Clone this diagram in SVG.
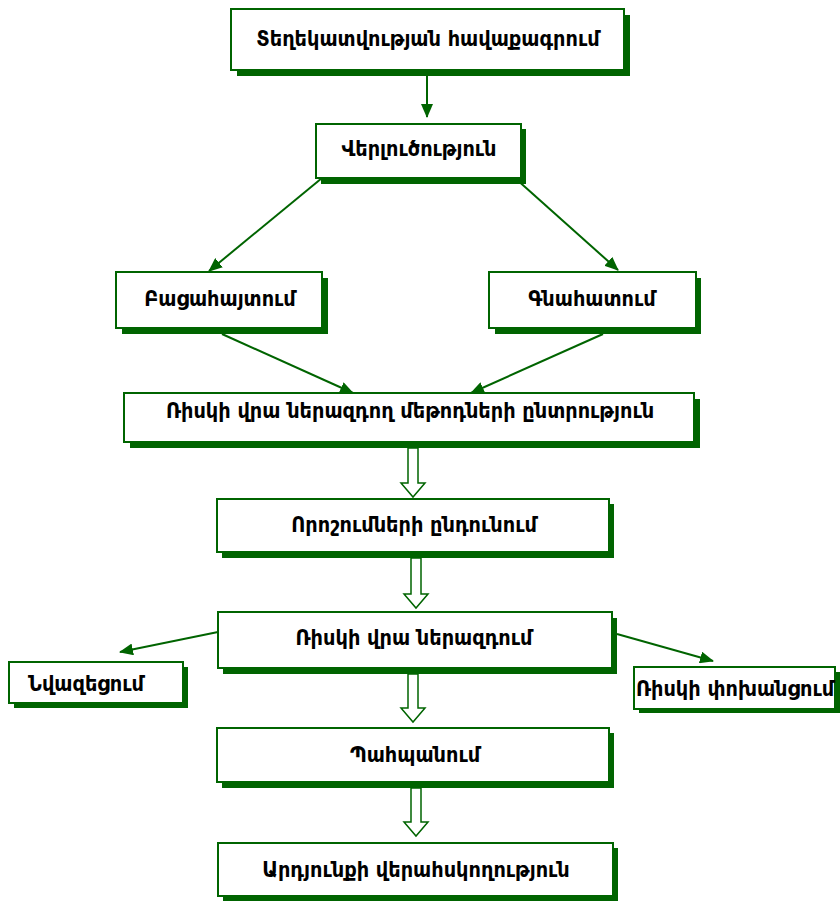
<svg xmlns="http://www.w3.org/2000/svg" width="840" height="902" viewBox="0 0 840 902">
  <style>
    .shadow { fill: #006400; }
    .box { fill: #ffffff; stroke: #006400; stroke-width: 2; }
    .lbl { font-family: "DejaVu Sans Condensed", "DejaVu Sans", sans-serif; font-stretch: condensed; font-weight: bold; font-size: 21.5px; fill: #000000; text-anchor: middle; dominant-baseline: central; }
    .line { stroke: #006400; stroke-width: 2; fill: none; marker-end: url(#head); }
    .hollow { fill: #ffffff; stroke: #006400; stroke-width: 1.5; stroke-linejoin: miter; }
  </style>
  <defs>
    <marker id="head" viewBox="0 0 14 12" refX="13" refY="6" markerWidth="14" markerHeight="12" markerUnits="userSpaceOnUse" orient="auto">
      <path d="M0,0 L14,6 L0,12 Z" fill="#006400"/>
    </marker>
  </defs>

  <!-- connectors -->
  <g id="connectors">
    <line class="line" x1="427" y1="70" x2="427" y2="117"/>
    <line class="line" x1="322" y1="178" x2="209" y2="271"/>
    <line class="line" x1="515" y1="178" x2="618" y2="270"/>
    <line class="line" x1="222" y1="334" x2="353" y2="393"/>
    <line class="line" x1="603" y1="334" x2="471" y2="393"/>
    <line class="line" x1="218" y1="632" x2="120" y2="652"/>
    <line class="line" x1="617" y1="634" x2="713" y2="661"/>
    <path class="hollow" d="M408,448 L418,448 L418,483 L425,483 L413,497 L401,483 L408,483 Z"/>
    <path class="hollow" d="M411,558 L421,558 L421,594 L428,594 L416,608 L404,594 L411,594 Z"/>
    <path class="hollow" d="M408,674 L418,674 L418,708 L425,708 L413,722 L401,708 L408,708 Z"/>
    <path class="hollow" d="M411,788 L421,788 L421,822 L428,822 L416,836 L404,822 L411,822 Z"/>
  </g>

  <g id="n1">
    <rect class="shadow" x="237" y="15" width="393" height="61"/>
    <rect class="box" x="231" y="9" width="393" height="61"/>
    <text class="lbl" x="428" y="38">Տեղեկատվության հավաքագրում</text>
  </g>
  <g id="n2">
    <rect class="shadow" x="321" y="129" width="205" height="55"/>
    <rect class="box" x="316" y="124" width="205" height="54"/>
    <text class="lbl" x="419" y="148">Վերլուծություն</text>
  </g>
  <g id="n3">
    <rect class="shadow" x="122" y="278" width="206" height="56"/>
    <rect class="box" x="116" y="272" width="206" height="56"/>
    <text class="lbl" x="220" y="298">Բացահայտում</text>
  </g>
  <g id="n4">
    <rect class="shadow" x="495" y="278" width="206" height="56"/>
    <rect class="box" x="489" y="272" width="207" height="56"/>
    <text class="lbl" x="592" y="298">Գնահատում</text>
  </g>
  <g id="n5">
    <rect class="shadow" x="130" y="399" width="570" height="49"/>
    <rect class="box" x="124" y="393" width="570" height="49"/>
    <text class="lbl" x="410" y="410">Ռիսկի վրա ներազդող մեթոդների ընտրություն</text>
  </g>
  <g id="n6">
    <rect class="shadow" x="222" y="504" width="392" height="54"/>
    <rect class="box" x="217" y="499" width="392" height="53"/>
    <text class="lbl" x="414" y="524">Որոշումների ընդունում</text>
  </g>
  <g id="n7">
    <rect class="shadow" x="223" y="618" width="394" height="56"/>
    <rect class="box" x="218" y="612" width="394" height="56"/>
    <text class="lbl" x="414" y="637">Ռիսկի վրա ներազդում</text>
  </g>
  <g id="n8">
    <rect class="shadow" x="14" y="667" width="174" height="41"/>
    <rect class="box" x="9" y="662" width="174" height="41"/>
    <text class="lbl" x="86" y="683">Նվազեցում</text>
  </g>
  <g id="n9">
    <rect class="shadow" x="639" y="672" width="201" height="41"/>
    <rect class="box" x="634" y="667" width="201" height="42"/>
    <text class="lbl" x="735" y="688">Ռիսկի փոխանցում</text>
  </g>
  <g id="n10">
    <rect class="shadow" x="222" y="733" width="392" height="55"/>
    <rect class="box" x="217" y="728" width="392" height="54"/>
    <text class="lbl" x="415" y="754">Պահպանում</text>
  </g>
  <g id="n11">
    <rect class="shadow" x="223" y="848" width="395" height="53"/>
    <rect class="box" x="218" y="843" width="395" height="53"/>
    <text class="lbl" x="416" y="869">Արդյունքի վերահսկողություն</text>
  </g>
</svg>
